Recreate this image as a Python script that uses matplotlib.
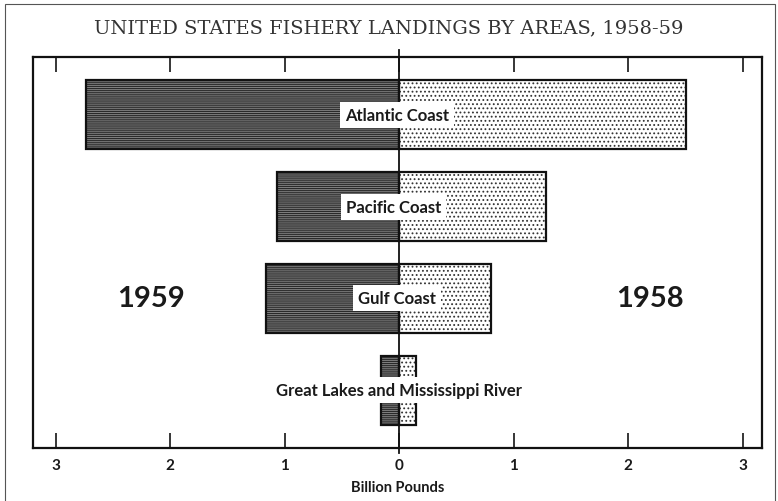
import matplotlib.pyplot as plt
from matplotlib.patches import Rectangle
import matplotlib.transforms as mtransforms

# Landings in billion pounds
areas = ["Atlantic Coast", "Pacific Coast", "Gulf Coast", "Great Lakes and Mississippi River"]
landings_1959 = [2.74, 1.07, 1.16, 0.16]
landings_1958 = [2.51, 1.28, 0.80, 0.15]
label_x = [-0.02, -0.05, -0.02, 0.0]
tick_vals = [-3, -2, -1, 0, 1, 2, 3]
tick_text = ["3", "2", "1", "0", "1", "2", "3"]

plt.rcParams["hatch.linewidth"] = 0.8
sans = ["Lato", "DejaVu Sans"]

fig = plt.figure(figsize=(7.78, 5.02), dpi=100)
ax = fig.add_axes([33 / 778, 1 - 449 / 502, 729 / 778, 391 / 502])

ypos = list(range(len(areas)))
left_vals = [-v for v in landings_1959]

# 1959: dark fill with horizontal streaks
ax.barh(ypos, left_vals, height=0.75, color="#808080", edgecolor="#2a2a2a",
        hatch="--------", linewidth=0, zorder=2)
ax.barh(ypos, left_vals, height=0.75, fill=False, edgecolor="#111111",
        linewidth=1.6, zorder=3)

# 1958: white fill with dot stipple
ax.barh(ypos, landings_1958, height=0.75, color="white", edgecolor="#333333",
        hatch="....", linewidth=0, zorder=2)
ax.barh(ypos, landings_1958, height=0.75, fill=False, edgecolor="#111111",
        linewidth=1.6, zorder=3)

for y, name, lx in zip(ypos, areas, label_x):
    ax.text(lx, y, name, ha="center", va="center", fontsize=12, fontweight="bold",
            family=sans, color="#1a1a1a", zorder=5,
            bbox=dict(boxstyle="square,pad=0.3", facecolor="white", edgecolor="none"))

# zero line runs a little past the frame at top and bottom
trans = mtransforms.blended_transform_factory(ax.transData, ax.transAxes)
ax.plot([0, 0], [-0.012, 1.018], transform=trans, color="#111111", lw=1.3,
        clip_on=False, zorder=4)

ax.text(-2.17, 2, "1959", ha="center", va="center", fontsize=21, fontweight="bold",
        family=sans, color="#1a1a1a")
ax.text(2.19, 2, "1958", ha="center", va="center", fontsize=21, fontweight="bold",
        family=sans, color="#1a1a1a")

ax.set_xlim(-3.2, 3.17)
ax.set_ylim(3.63, -0.63)
ax.set_yticks([])
ax.set_xticks(tick_vals)
ax.set_xticklabels(tick_text, fontsize=11, fontweight="bold", family=sans, color="#1a1a1a")
ax.tick_params(axis="x", direction="in", length=11, width=1.1, top=True, pad=7)
for s in ax.spines.values():
    s.set_linewidth(1.6)
    s.set_color("#111111")
ax.set_xlabel("Billion Pounds", fontsize=10.5, fontweight="bold", family=sans,
              color="#1a1a1a", labelpad=6)

fig.text(0.5, 1 - 28 / 502, "UNITED STATES FISHERY LANDINGS BY AREAS, 1958-59",
         ha="center", va="center", fontsize=14, family="DejaVu Serif", color="#333333")

# thin outer border
fig.patches.append(Rectangle((5 / 778, -0.01), 770 / 778, 1 - 5 / 502 + 0.01,
                             transform=fig.transFigure, fill=False,
                             edgecolor="#555555", linewidth=0.8))

fig.savefig("out.png", dpi=100)
